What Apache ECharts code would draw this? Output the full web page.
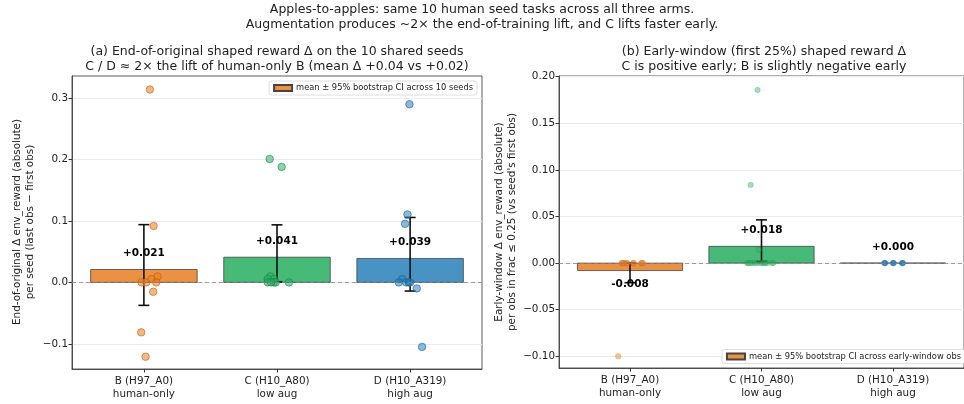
<!DOCTYPE html>
<html><head><meta charset="utf-8">
<script src="https://cdn.jsdelivr.net/npm/echarts@6/dist/echarts.min.js"></script>
<style>html,body{margin:0;padding:0;background:#fff}#c{width:964px;height:404px}</style>
</head><body><div id="c"></div>
<script>
const categories = ['B (H97_A0)\nhuman-only', 'C (H10_A80)\nlow aug', 'D (H10_A319)\nhigh aug'];
const barColors = ['#ea9143', '#47ba78', '#4993c4'];
const pointFill = ['rgba(230,126,34,0.55)', 'rgba(39,174,96,0.55)', 'rgba(41,128,185,0.55)'];
const pointEdge = ['rgba(190,95,20,0.75)', 'rgba(25,130,70,0.75)', 'rgba(25,95,150,0.75)'];
const pointFillR = ['rgba(230,126,34,0.45)', 'rgba(39,174,96,0.42)', 'rgba(41,128,185,0.7)'];
const pointEdgeR = ['rgba(190,95,20,0.4)', 'rgba(25,130,70,0.35)', 'rgba(25,95,150,0.6)'];

// (a) end-of-original per seed deltas
const leftMeans = [0.021, 0.041, 0.039];
const leftCILow = [-0.0374, 0.001, -0.0141];
const leftCIHigh = [0.094, 0.0937, 0.1057];
const leftB = [0.314, 0.092, 0, 0, 0.0054, 0.0097, 0, -0.0152, -0.0813, -0.121];
const leftBJitter = [0.045, 0.073, -0.017, 0.018, 0.058, 0.103, 0.093, 0.07, -0.02, 0.013];
const leftC = [0.201, 0.188, 0.0097, 0.0054, 0.0054, 0, 0, 0, 0, 0];
const leftCJitter = [-0.055, 0.035, -0.05, -0.07, -0.023, -0.07, -0.025, -0.01, 0.09, -0.045];
const leftD = [0.29, 0.1106, 0.0953, 0.0054, 0, 0, 0, 0, -0.0098, -0.105];
const leftDJitter = [-0.005, -0.02, -0.038, -0.06, -0.085, -0.03, -0.01, 0.0, 0.05, 0.09];
const leftTicks = [-0.1, 0, 0.1, 0.2, 0.3];

// (b) early-window per obs deltas
const rightMeans = [-0.008, 0.018, 0.000];
const rightCILow = [-0.021, 0.0017, 0];
const rightCIHigh = [0, 0.0464, 0];
const rightB = [-0.1, 0, 0, 0, 0, 0, 0, 0, 0, 0, 0, 0];
const rightBJitter = [-0.09, -0.063, -0.06, -0.045, -0.043, -0.025, -0.02, 0.025, 0.028, 0.085, 0.09, 0.1];
const rightC = [0.1857, 0.0839, 0.0143, 0, 0, 0, 0, 0, 0, 0, 0, 0, 0, 0, 0, 0];
const rightCJitter = [-0.03, -0.083, -0.02, -0.11, -0.1, -0.085, -0.07, -0.05, -0.035, -0.01, 0.005, 0.02, 0.03, 0.045, 0.08, 0.09];
const rightD = [0, 0, 0, 0, 0, 0];
const rightDJitter = [-0.065, -0.06, 0.0, 0.005, 0.07, 0.075];
const rightTicks = [-0.10, -0.05, 0, 0.05, 0.10, 0.15, 0.20];

const FONT = '"DejaVu Sans", sans-serif';
const fmtMinus = (s) => s.replace('-', '\u2212');

function barItem(params, api) {
  const i = api.value(0), v = api.value(1);
  const p0 = api.coord([i - 0.4, 0]);
  const p1 = api.coord([i + 0.4, v]);
  return {
    type: 'rect',
    shape: { x: p0[0], y: Math.min(p0[1], p1[1]), width: p1[0] - p0[0], height: Math.abs(p1[1] - p0[1]) },
    style: { fill: barColors[i], stroke: '#444', lineWidth: 0.8 }
  };
}
function errItem(params, api) {
  const i = api.value(0), lo = api.value(1), hi = api.value(2);
  if (lo === hi) return null;
  const a = api.coord([i, lo]), b = api.coord([i, hi]);
  const st = { stroke: '#111', lineWidth: 1.6 };
  return {
    type: 'group', children: [
      { type: 'line', shape: { x1: a[0], y1: a[1], x2: b[0], y2: b[1] }, style: st },
      { type: 'line', shape: { x1: a[0] - 5.5, y1: a[1], x2: a[0] + 5.5, y2: a[1] }, style: st },
      { type: 'line', shape: { x1: b[0] - 5.5, y1: b[1], x2: b[0] + 5.5, y2: b[1] }, style: st }
    ]
  };
}
function labelItemFactory(offset) {
  return function (params, api) {
    const i = api.value(0), m = api.value(1);
    const y = m < 0 ? m - offset * 0.85 : m + offset;
    const p = api.coord([i, y]);
    const txt = (m < 0 ? '-' : '+') + Math.abs(m).toFixed(3);
    return {
      type: 'text', z2: 100,
      style: { text: txt, x: p[0], y: p[1], align: 'center', verticalAlign: 'middle', font: 'bold 10.5px ' + FONT, fill: '#000' }
    };
  };
}
function pts(vals, jit, i) { return vals.map((v, k) => [i + jit[k], v]); }

const xAxisBase = (gi) => ({
  type: 'value', gridIndex: gi, min: -0.54, max: 2.54,
  axisLine: { show: true, onZero: false, lineStyle: { color: '#333', width: 0.8 } },
  axisTick: { show: true, length: 3.5, customValues: [0, 1, 2], lineStyle: { color: '#333' } },
  axisLabel: { customValues: [0, 1, 2], formatter: (v) => categories[Math.round(v)], fontSize: 10.4, fontFamily: FONT, color: '#222', lineHeight: 13, margin: 6 },
  splitLine: { show: false }
});
const yAxisBase = (gi, min, max, ticks, dec) => ({
  type: 'value', gridIndex: gi, min: min, max: max,
  axisLine: { show: true, onZero: false, lineStyle: { color: '#333', width: 0.8 } },
  axisTick: { show: true, length: 3.5, customValues: ticks, lineStyle: { color: '#333' } },
  axisLabel: { customValues: ticks, formatter: (v) => fmtMinus(v.toFixed(dec)), fontSize: 10.4, fontFamily: FONT, color: '#222', margin: 4 },
  splitLine: { show: true, lineStyle: { color: '#ebebeb', width: 1 } }
});
const zeroLine = {
  silent: true, symbol: 'none', label: { show: false },
  lineStyle: { type: [4, 3], color: '#888', width: 0.8 },
  data: [{ yAxis: 0 }]
};
const titleStyle = { fontSize: 12.5, fontWeight: 'normal', fontFamily: FONT, color: '#222', lineHeight: 15 };
const legendBase = {
  icon: 'rect', itemWidth: 18, itemHeight: 6, itemGap: 4, padding: [3, 4, 3, 4],
  backgroundColor: '#fff', borderColor: '#d5d5d5', borderWidth: 0.8, borderRadius: 2,
  textStyle: { fontSize: 8.3, fontFamily: FONT, color: '#222', padding: [0, 0, 0, -1] }
};

const option = {
  animation: false,
  backgroundColor: '#fff',
  title: [
    { text: 'Apples-to-apples: same 10 human seed tasks across all three arms.\nAugmentation produces ~2\u00d7 the end-of-training lift, and C lifts faster early.',
      left: 482, top: 2, padding: 0, textAlign: 'center', textStyle: titleStyle },
    { text: '(a) End-of-original shaped reward \u0394 on the 10 shared seeds\nC / D \u2248 2\u00d7 the lift of human-only B (mean \u0394 +0.04 vs +0.02)',
      left: 277, top: 44, padding: 0, textAlign: 'center', textStyle: titleStyle },
    { text: '(b) Early-window (first 25%) shaped reward \u0394\nC is positive early; B is slightly negative early',
      left: 764, top: 44, padding: 0, textAlign: 'center', textStyle: titleStyle }
  ],
  graphic: [
    { type: 'text', x: 24, y: 222, rotation: Math.PI / 2,
      style: { text: 'End-of-original \u0394 env_reward (absolute)\nper seed (last obs \u2212 first obs)', align: 'center', verticalAlign: 'middle', font: '10.4px ' + FONT, fill: '#222', lineHeight: 12.5 } },
    { type: 'text', x: 506, y: 222, rotation: Math.PI / 2,
      style: { text: 'Early-window \u0394 env_reward (absolute)\nper obs in frac \u2264 0.25 (vs seed\'s first obs)', align: 'center', verticalAlign: 'middle', font: '10.4px ' + FONT, fill: '#222', lineHeight: 12.5 } }
  ],
  legend: [
    Object.assign({ data: ['mean \u00b1 95% bootstrap CI across 10 seeds'], right: 964 - 477, top: 81 }, legendBase),
    Object.assign({ data: ['mean \u00b1 95% bootstrap CI across early-window obs'], left: 722, top: 349.5 }, legendBase)
  ],
  grid: [
    { left: 72, top: 76, width: 410, height: 293, show: true, borderColor: '#333', borderWidth: 0.8, backgroundColor: 'transparent' },
    { left: 559, top: 76, width: 410, height: 292, show: true, borderColor: '#333', borderWidth: 0.8, backgroundColor: 'transparent' }
  ],
  xAxis: [xAxisBase(0), xAxisBase(1)],
  yAxis: [yAxisBase(0, -0.141, 0.336, leftTicks, 1), yAxisBase(1, -0.1125, 0.2007, rightTicks, 2)],
  series: [
    // legend proxies
    { type: 'bar', name: 'mean \u00b1 95% bootstrap CI across 10 seeds', xAxisIndex: 0, yAxisIndex: 0, data: [],
      itemStyle: { color: barColors[0], borderColor: '#444', borderWidth: 0.8 } },
    { type: 'bar', name: 'mean \u00b1 95% bootstrap CI across early-window obs', xAxisIndex: 1, yAxisIndex: 1, data: [],
      itemStyle: { color: barColors[0], borderColor: '#444', borderWidth: 0.8 } },
    // bars
    { type: 'custom', xAxisIndex: 0, yAxisIndex: 0, z: 2, renderItem: barItem, data: leftMeans.map((m, i) => [i, m]), markLine: zeroLine, silent: true },
    { type: 'custom', xAxisIndex: 1, yAxisIndex: 1, z: 2, renderItem: barItem, data: rightMeans.map((m, i) => [i, m]), markLine: zeroLine, silent: true },
    // error bars
    { type: 'custom', xAxisIndex: 0, yAxisIndex: 0, z: 3, renderItem: errItem, data: leftMeans.map((m, i) => [i, leftCILow[i], leftCIHigh[i]]), silent: true },
    { type: 'custom', xAxisIndex: 1, yAxisIndex: 1, z: 3, renderItem: errItem, data: rightMeans.map((m, i) => [i, rightCILow[i], rightCIHigh[i]]), silent: true },
    // points
    ...[[leftB, leftBJitter], [leftC, leftCJitter], [leftD, leftDJitter]].map((p, i) => ({
      type: 'scatter', xAxisIndex: 0, yAxisIndex: 0, z: 4, symbolSize: 7.5, data: pts(p[0], p[1], i),
      itemStyle: { color: pointFill[i], borderColor: pointEdge[i], borderWidth: 0.8, opacity: 1 }, silent: true })),
    ...[[rightB, rightBJitter], [rightC, rightCJitter], [rightD, rightDJitter]].map((p, i) => ({
      type: 'scatter', xAxisIndex: 1, yAxisIndex: 1, z: 4, symbolSize: 5.5, data: pts(p[0], p[1], i),
      itemStyle: { color: pointFillR[i], borderColor: pointEdgeR[i], borderWidth: 0.6, opacity: 1 }, silent: true })),
    // value labels
    { type: 'custom', xAxisIndex: 0, yAxisIndex: 0, z: 5, renderItem: labelItemFactory(0.026), data: leftMeans.map((m, i) => [i, m]), silent: true },
    { type: 'custom', xAxisIndex: 1, yAxisIndex: 1, z: 5, renderItem: labelItemFactory(0.0173), data: rightMeans.map((m, i) => [i, m]), silent: true }
  ]
};
const chart = echarts.init(document.getElementById('c'), null, { renderer: 'canvas' });
chart.setOption(option);
</script>
</body></html>
